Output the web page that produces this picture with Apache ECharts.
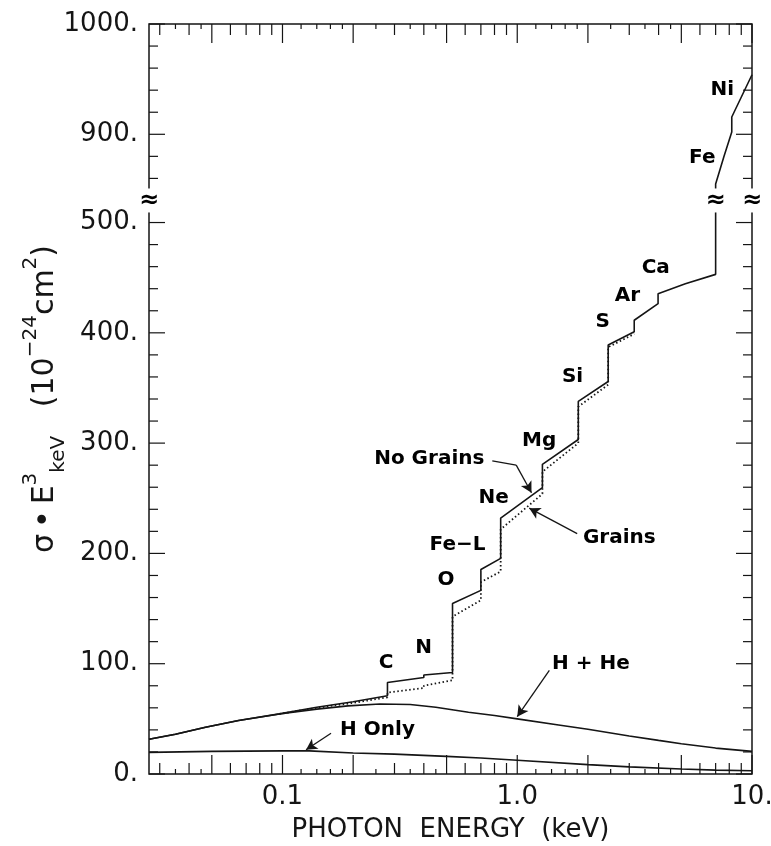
<!DOCTYPE html>
<html>
<head>
<meta charset="utf-8">
<script src="https://cdn.jsdelivr.net/npm/echarts@6/dist/echarts.min.js"></script>
<style>
html, body { margin: 0; padding: 0; background: #fff; }
#chart { width: 771px; height: 846px; }
</style>
</head>
<body>
<div id="chart"></div>
<script>
// photon energy (keV) / sigma*E^3 (1e-24 cm^2)
var noGrainsE = [0.027, 0.035, 0.047, 0.065, 0.097, 0.14, 0.2, 0.28, 0.28, 0.40, 0.40, 0.53, 0.53, 0.70, 0.70,
    0.85, 0.85, 1.28, 1.28, 1.82, 1.82, 2.44, 2.44, 3.15, 3.15, 3.98, 3.98, 5.2, 7.0, 7.0, 7.6, 8.2, 8.2, 10];
var noGrainsV = [31.5, 36, 42.4, 48.5, 54.5, 60.5, 65.5, 71, 83, 87.5, 89.7, 92, 154.5, 166.5, 185.4,
    195.5, 232, 259.7, 280.8, 303.3, 337.8, 355.9, 388.9, 401, 411.4, 426.4, 435.4, 444.5, 453, 855, 880, 902, 915.7, 954];

var grainsE = [0.097, 0.14, 0.2, 0.28, 0.28, 0.40, 0.40, 0.53, 0.53, 0.70, 0.70, 0.85, 0.85, 1.28, 1.28, 1.82, 1.82, 2.44, 2.44, 3.15];
var grainsV = [54.5, 60, 64.5, 69.5, 73.8, 78, 80, 85, 142.6, 157.6, 174, 183.6, 221.8, 254, 274, 300, 333, 353, 387, 399];

var hheE = [0.027, 0.035, 0.047, 0.065, 0.097, 0.14, 0.19, 0.26, 0.35, 0.45, 0.62, 0.8, 1.0, 1.5, 2, 3, 4, 5, 7, 10];
var hheV = [31.5, 36, 42.4, 48.5, 54.4, 58.8, 61.8, 63.4, 63, 60.5, 56, 53, 50, 44.5, 40.5, 34.5, 30.5, 27.5, 23.5, 20.5];

var hOnlyE = [0.027, 0.05, 0.1, 0.13, 0.2, 0.3, 0.5, 0.7, 1.0, 2, 3, 5, 7, 10];
var hOnlyV = [19.6, 20.5, 21, 21, 19, 18, 16, 14.5, 12.5, 8.5, 6.5, 4.5, 3.5, 3];

// x (log) ticks
var xTicksLong = [0.05, 0.1, 0.2, 0.5, 1, 2, 5, 10];
var xTicksMid = [0.03, 0.04, 0.06, 0.07, 0.08, 0.09, 0.3, 0.4, 0.6, 0.7, 0.8, 0.9, 3, 4, 6, 7, 8, 9];
var xTicksShort = [0.035, 0.045, 0.12, 0.14, 0.16, 0.18, 0.25, 0.35, 0.45, 1.2, 1.4, 1.6, 1.8, 2.5, 3.5, 4.5];
var xLabels = { '0.1': '0.1', '1': '1.0', '10': '10.' };

// y ticks (axis broken between 520 and 840)
var yTicksMajor = [0, 100, 200, 300, 400, 500, 900, 1000];
var yTicksMinor = [20, 40, 60, 80, 120, 140, 160, 180, 220, 240, 260, 280, 320, 340, 360, 380,
    420, 440, 460, 480, 860, 880, 920, 940, 960, 980];

// annotations
var noteText = ['C', 'N', 'O', 'Fe\u2212L', 'Ne', 'Mg', 'Si', 'S', 'Ar', 'Ca', 'Fe', 'Ni', 'No Grains', 'Grains', 'H Only', 'H + He'];
var noteE = [0.276, 0.399, 0.497, 0.557, 0.794, 1.24, 1.72, 2.31, 2.95, 3.89, 6.14, 7.47, 0.422, 2.72, 0.254, 2.06];
var noteV = [101, 114, 176, 208, 250, 302, 360, 410, 434, 459, 879, 940, 286, 214, 40, 100];

// arrows: [fromE, fromV, toE, toV, head]
var arrows = [
    [0.783, 284, 0.99, 280, 0],
    [0.99, 280, 1.15, 255, 1],
    [1.80, 218, 1.125, 241, 1],
    [0.161, 37, 0.126, 22, 1],
    [1.37, 94, 1.0, 52, 1]
];

var breakMarks = [[0.027, 520], [7.0, 520], [10, 520]];

function pairs(xs, ys) {
    var out = [];
    for (var i = 0; i < xs.length; i++) {
        out.push([xs[i], ys[i]]);
    }
    return out;
}

// [value, 0 = x tick / 1 = y tick, length]
var tickData = [];
xTicksLong.forEach(function (v) { tickData.push([v, 0, 19]); });
xTicksMid.forEach(function (v) { tickData.push([v, 0, 11]); });
xTicksShort.forEach(function (v) { tickData.push([v, 0, 5]); });
yTicksMajor.forEach(function (v) { tickData.push([v, 1, 16]); });
yTicksMinor.forEach(function (v) { tickData.push([v, 1, 9]); });

var ink = '#151515';
var lineW = 1.6;
var X_MIN = 0.027, X_MAX = 10;

function yAxisOf(pos) {
    return {
        type: 'value',
        position: pos,
        min: 0,
        max: 1000,
        interval: 100,
        breaks: [{ start: 520, end: 840, gap: 0 }],
        breakArea: { show: false },
        breakLabelLayout: { moveOverlap: false },
        splitLine: { show: false },
        axisLine: { show: false },
        axisTick: { show: false },
        axisLabel: {
            show: pos === 'left',
            hideOverlap: false,
            customValues: yTicksMajor,
            margin: 11,
            fontFamily: 'DejaVu Sans',
            fontSize: 26,
            color: ink,
            formatter: function (v) {
                return Math.round(v) % 100 === 0 ? Math.round(v) + '.' : '';
            }
        }
    };
}

var leftAxis = yAxisOf('left');
leftAxis.name = '{t|\u03C3\u2009\u2022\u2009E}{sup|3}{sub|keV}{t|   (10}{sup|\u221224}{t|cm}{sup|2}{t|)}';
leftAxis.nameLocation = 'middle';
leftAxis.nameRotate = 90;
leftAxis.nameGap = 104;
leftAxis.nameMoveOverlap = false;
leftAxis.nameTextStyle = {
    fontFamily: 'DejaVu Sans',
    fontSize: 30,
    color: ink,
    verticalAlign: 'middle',
    rich: {
        t: { fontFamily: 'DejaVu Sans', fontSize: 30, lineHeight: 48, color: ink },
        sup: { fontFamily: 'DejaVu Sans', fontSize: 20, lineHeight: 20, verticalAlign: 'top', color: ink },
        sub: { fontFamily: 'DejaVu Sans', fontSize: 20, lineHeight: 20, verticalAlign: 'bottom', color: ink }
    }
};

var curveStyle = { color: ink, width: lineW };

var option = {
    animation: false,
    backgroundColor: '#fff',
    grid: {
        left: 149,
        right: 19,
        top: 24,
        bottom: 72,
        containLabel: false,
        outerBoundsMode: 'none',
        show: true,
        borderColor: ink,
        borderWidth: 1.5,
        backgroundColor: 'transparent'
    },
    xAxis: {
        type: 'log',
        logBase: 10,
        min: X_MIN,
        max: X_MAX,
        axisLine: { show: false },
        axisTick: { show: false },
        splitLine: { show: false },
        axisLabel: {
            margin: 10,
            hideOverlap: false,
            fontFamily: 'DejaVu Sans',
            fontSize: 26,
            color: ink,
            formatter: function (v) {
                var l = Math.log10(v);
                if (Math.abs(l - Math.round(l)) > 1e-6) return '';
                return xLabels[String(Math.pow(10, Math.round(l)))] || '';
            }
        },
        name: 'PHOTON  ENERGY  (keV)',
        nameLocation: 'middle',
        nameGap: 43,
        nameMoveOverlap: false,
        nameTextStyle: { fontFamily: 'DejaVu Sans', fontSize: 26, color: ink }
    },
    yAxis: [leftAxis, yAxisOf('right')],
    series: [
        {
            name: 'No Grains',
            type: 'line',
            data: pairs(noGrainsE, noGrainsV),
            showSymbol: false,
            lineStyle: curveStyle,
            z: 4,
            markLine: {
                silent: true,
                symbol: ['none', 'arrow'],
                symbolSize: [9, 11],
                label: { show: false },
                lineStyle: { color: ink, width: 1.3, type: 'solid' },
                data: arrows.map(function (a) {
                    return [
                        { coord: [a[0], a[1]], symbol: 'none' },
                        { coord: [a[2], a[3]], symbol: a[4] ? 'arrow' : 'none' }
                    ];
                })
            }
        },
        {
            name: 'Grains',
            type: 'line',
            data: pairs(grainsE, grainsV),
            showSymbol: false,
            lineStyle: { color: ink, width: 1.8, type: [1.5, 2.5] },
            z: 3
        },
        {
            name: 'H + He',
            type: 'line',
            data: pairs(hheE, hheV),
            showSymbol: false,
            lineStyle: curveStyle,
            z: 3
        },
        {
            name: 'H Only',
            type: 'line',
            data: pairs(hOnlyE, hOnlyV),
            showSymbol: false,
            lineStyle: curveStyle,
            z: 3
        },
        {
            name: 'ticks',
            type: 'custom',
            data: tickData,
            clip: false,
            silent: true,
            z: 5,
            renderItem: function (params, api) {
                var v = api.value(0);
                var len = api.value(2);
                var a, b, d;
                if (api.value(1) === 0) {
                    a = api.coord([v, 0]);
                    b = api.coord([v, 1000]);
                    d = [0, -len, 0, len];
                } else {
                    a = api.coord([X_MIN, v]);
                    b = api.coord([X_MAX, v]);
                    d = [len, 0, -len, 0];
                }
                var st = { stroke: ink, lineWidth: 1.2 };
                return {
                    type: 'group',
                    children: [
                        { type: 'line', shape: { x1: a[0], y1: a[1], x2: a[0] + d[0], y2: a[1] + d[1] }, style: st },
                        { type: 'line', shape: { x1: b[0], y1: b[1], x2: b[0] + d[2], y2: b[1] + d[3] }, style: st }
                    ]
                };
            }
        },
        {
            name: 'notes',
            type: 'scatter',
            data: pairs(noteE, noteV),
            symbolSize: 1,
            itemStyle: { color: 'rgba(0,0,0,0)', opacity: 1 },
            silent: true,
            z: 6,
            label: {
                show: true,
                position: 'inside',
                fontFamily: 'DejaVu Sans',
                fontWeight: 'bold',
                fontSize: 20,
                color: '#000',
                opacity: 1,
                formatter: function (p) { return noteText[p.dataIndex]; }
            }
        },
        {
            name: 'breaks',
            type: 'scatter',
            data: breakMarks,
            symbolSize: 1,
            clip: false,
            itemStyle: { color: 'rgba(0,0,0,0)', opacity: 1 },
            silent: true,
            z: 7,
            label: {
                show: true,
                position: 'inside',
                formatter: '\u2248',
                fontFamily: 'DejaVu Sans',
                fontWeight: 'bold',
                fontSize: 24,
                color: '#000',
                opacity: 1,
                backgroundColor: '#fff',
                padding: [0, 1]
            }
        }
    ]
};

var myChart = echarts.init(document.getElementById('chart'));
myChart.setOption(option);
</script>
</body>
</html>
